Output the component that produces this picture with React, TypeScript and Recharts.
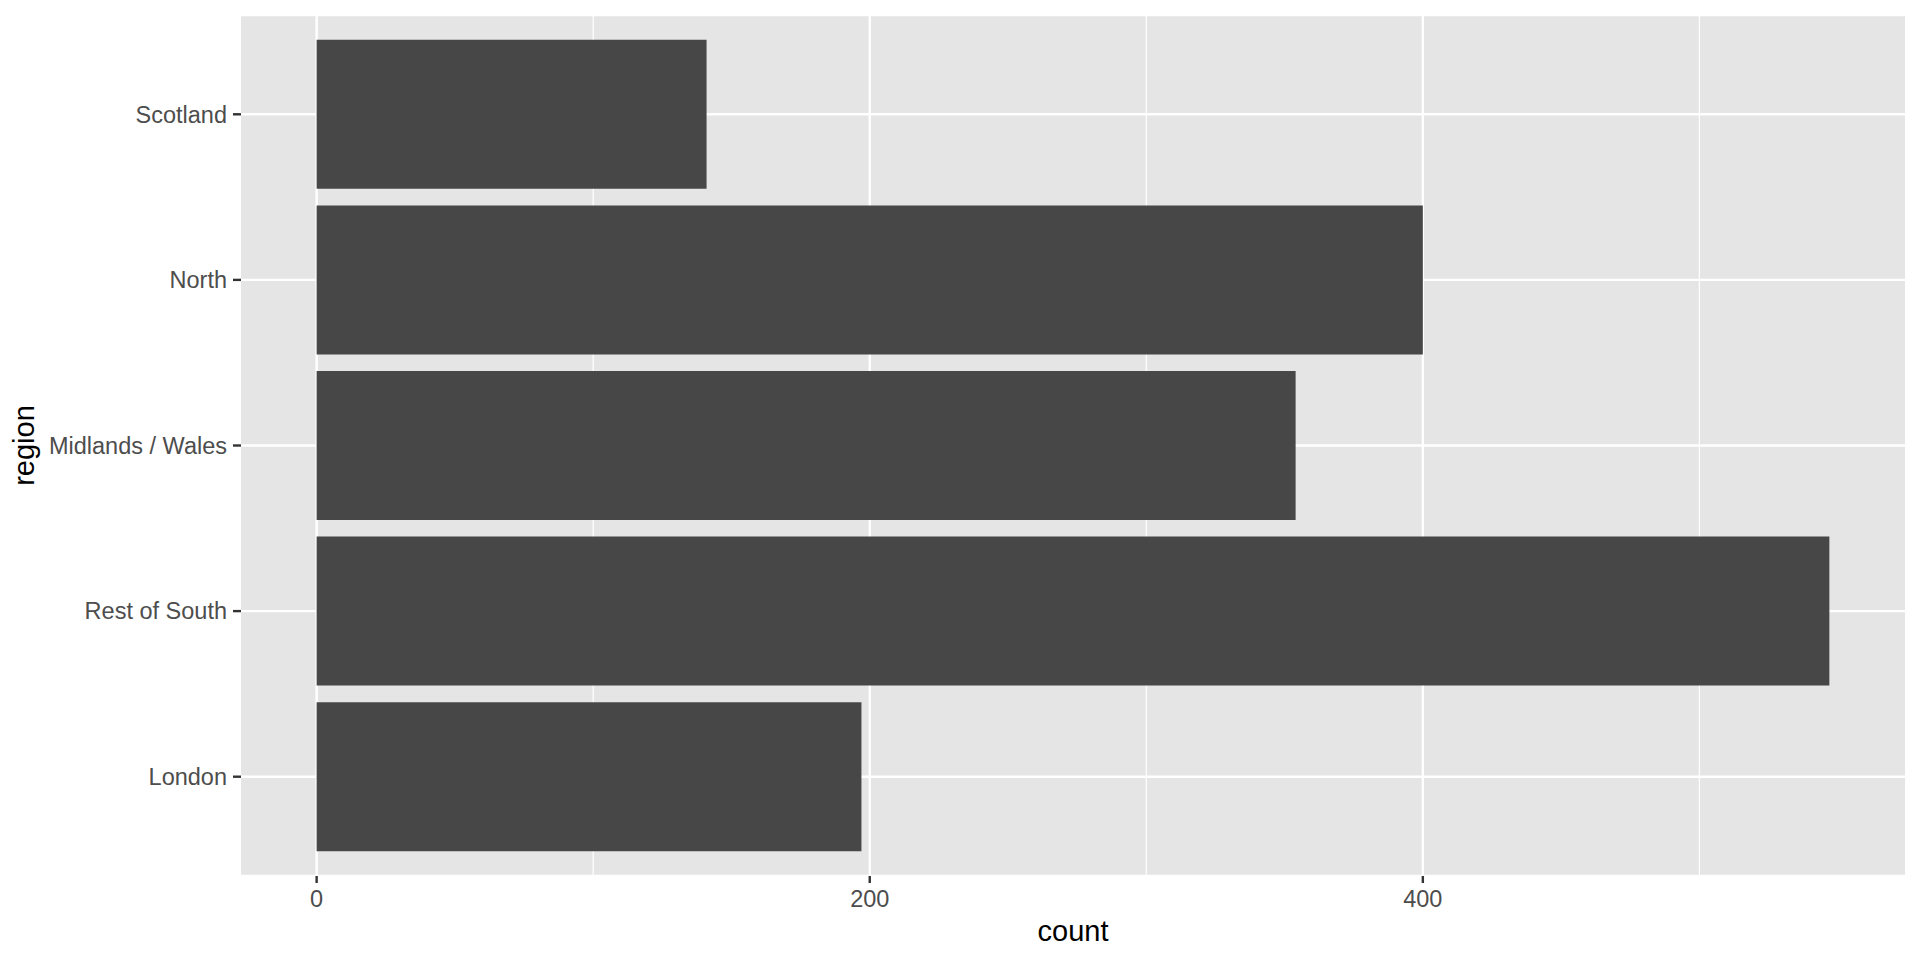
import { BarChart, Bar, XAxis, YAxis, CartesianGrid } from "recharts";

const regions = ["Scotland", "North", "Midlands / Wales", "Rest of South", "London"];
const counts = [141, 400, 354, 547, 197];
const xTicks = [0, 200, 400];
const xMinor = [100, 300, 500];

const data = regions.map((region, i) => ({ region, count: counts[i] }));

// ggplot-style 5% expansion on the continuous axis
const maxCount = Math.max(...counts);
const xDomain = [-0.05 * maxCount, 1.05 * maxCount];

const font = "'Liberation Sans', Arial, Helvetica, sans-serif";

export default function App() {
  return (
    <div style={{ position: "absolute", left: 0, top: 0, background: "#fff" }}>
      <BarChart
        width={1920}
        height={960}
        data={data}
        layout="vertical"
        barCategoryGap="5%"
        margin={{ top: 15, right: 15, bottom: 0, left: 0 }}
      >
        <CartesianGrid
          fill="#E5E5E5"
          stroke="#FFFFFF"
          strokeWidth={1.2}
          horizontal={false}
          verticalValues={xMinor}
        />
        <CartesianGrid
          stroke="#FFFFFF"
          strokeWidth={2.4}
          verticalValues={xTicks}
        />
        <XAxis
          type="number"
          dataKey="count"
          domain={xDomain}
          ticks={xTicks}
          allowDataOverflow
          height={84}
          axisLine={false}
          tickLine={{ stroke: "#333333", strokeWidth: 2.4 }}
          tickSize={7}
          tickMargin={7}
          tick={{ fontSize: 23.5, fill: "#4D4D4D", fontFamily: font }}
          label={{
            value: "count",
            position: "insideBottom",
            offset: 19.5,
            style: { fontSize: 29, fill: "#000", fontFamily: font },
          }}
        />
        <YAxis
          type="category"
          dataKey="region"
          width={241}
          padding={{ top: 16.5, bottom: 16.5 }}
          axisLine={false}
          tickLine={{ stroke: "#333333", strokeWidth: 2.4 }}
          tickSize={8}
          tickMargin={6}
          tick={{ fontSize: 23.5, fill: "#4D4D4D", fontFamily: font }}
          label={{
            value: "region",
            angle: -90,
            position: "insideLeft",
            offset: 24,
            style: { fontSize: 29, fill: "#000", fontFamily: font, textAnchor: "middle" },
          }}
        />
        <Bar dataKey="count" fill="#474747" isAnimationActive={false} />
      </BarChart>
    </div>
  );
}
